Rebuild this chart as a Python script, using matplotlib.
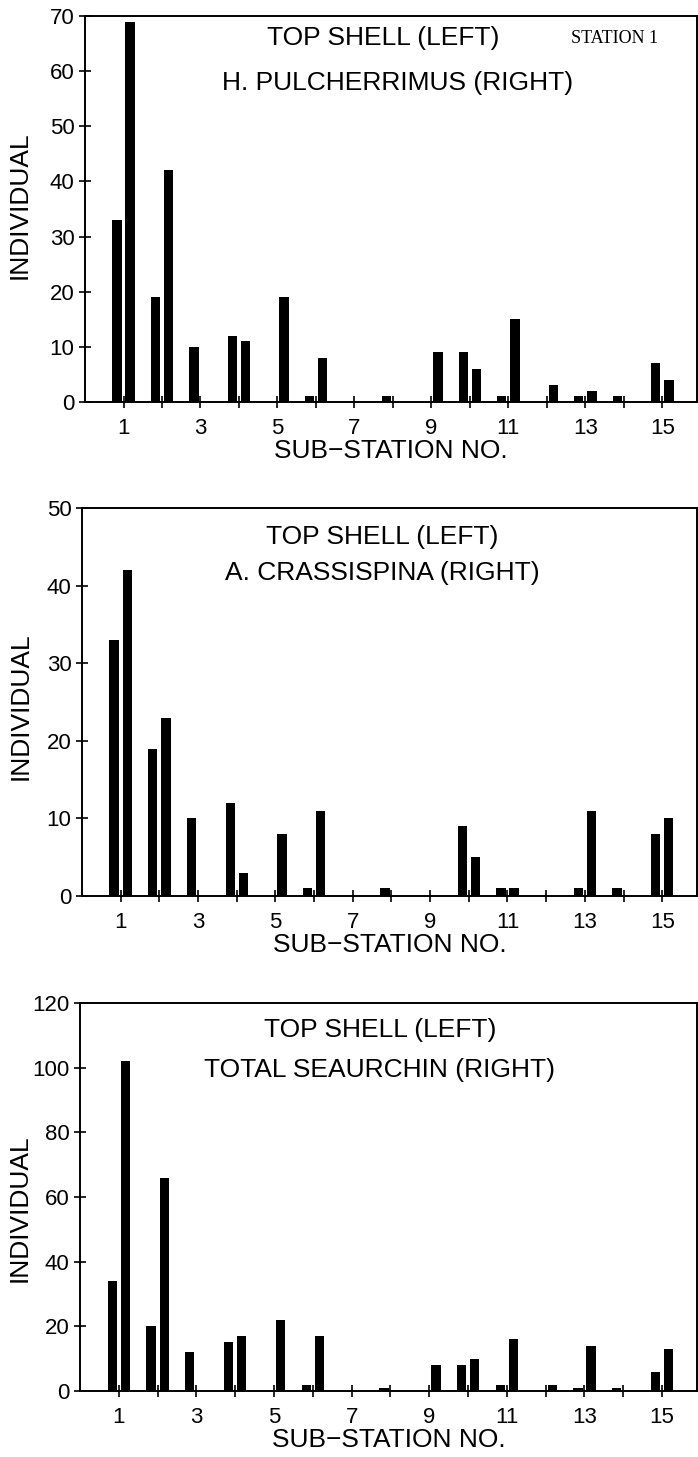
import matplotlib
matplotlib.use("Agg")
import matplotlib.pyplot as plt
import numpy as np

# sub-station numbers 1..15
stations = np.arange(1, 16)

# top shell (left bars), read for each panel
top_shell_1 = [33, 19, 10, 12, 0, 1, 0, 1, 0, 9, 1, 0, 1, 1, 7]
top_shell_2 = [33, 19, 10, 12, 0, 1, 0, 1, 0, 9, 1, 0, 1, 1, 8]
top_shell_3 = [34, 20, 12, 15, 0, 2, 0, 1, 0, 8, 2, 0, 1, 1, 6]

# second species (right bars)
pulcherrimus = [69, 42, 0, 11, 19, 8, 0, 0, 9, 6, 15, 3, 2, 0, 4]
crassispina = [42, 23, 0, 3, 8, 11, 0, 0, 0, 5, 1, 0, 11, 0, 10]
seaurchin = [102, 66, 0, 17, 22, 17, 0, 0, 8, 10, 16, 2, 14, 0, 13]

titles = [["TOP SHELL (LEFT)", "H. PULCHERRIMUS (RIGHT)"],
          ["TOP SHELL (LEFT)", "A. CRASSISPINA (RIGHT)"],
          ["TOP SHELL (LEFT)", "TOTAL SEAURCHIN (RIGHT)"]]
ymax = [70, 50, 120]
ystep = [10, 10, 20]

plt.rcParams['font.family'] = ['Liberation Sans', 'DejaVu Sans']

fig = plt.figure(figsize=(6.98, 14.57), dpi=100)

# axes boxes in figure coords [left, bottom, width, height]
boxes = [[0.1218, 0.7241, 0.8768, 0.2649],
         [0.1175, 0.3850, 0.8811, 0.2663],
         [0.1146, 0.0453, 0.8840, 0.2663]]
title_pos = [[(0.487, 0.943), (0.511, 0.826)],
             [(0.488, 0.925), (0.488, 0.832)],
             [(0.486, 0.930), (0.486, 0.827)]]
ylabel_pos = [(-0.087, 0.51), (-0.081, 0.49), (-0.078, 0.47)]

left_data = [top_shell_1, top_shell_2, top_shell_3]
right_data = [pulcherrimus, crassispina, seaurchin]

for i in range(0, 3):
    ax = fig.add_axes(boxes[i])
    ax.bar(stations - 0.17, left_data[i], width=0.24, color='black')
    ax.bar(stations + 0.17, right_data[i], width=0.24, color='black')

    ax.set_xlim(0, 15.9)
    ax.set_ylim(0, ymax[i])
    ax.set_yticks(np.arange(0, ymax[i] + 1, ystep[i]))
    ax.set_xticks(np.arange(1, 16, 2))
    ax.set_xticks(np.arange(2, 16, 2), minor=True)

    ax.tick_params(axis='y', direction='inout', length=9, width=1.2, labelsize=16, pad=3)
    ax.tick_params(axis='x', which='both', direction='inout', length=9, width=1.2, labelsize=16, pad=7)

    for s in ax.spines.values():
        s.set_linewidth(1.4)

    ax.set_ylabel("INDIVIDUAL", fontsize=19)
    ax.yaxis.set_label_coords(ylabel_pos[i][0], ylabel_pos[i][1])
    ax.set_xlabel("SUB\u2212STATION NO.", fontsize=19, labelpad=0)

    for j in range(0, 2):
        ax.text(title_pos[i][j][0], title_pos[i][j][1], titles[i][j], transform=ax.transAxes,
                ha='center', va='center', fontsize=19)

    if i == 0:
        ax.text(0.866, 0.943, "STATION 1", transform=ax.transAxes, ha='center', va='center',
                fontsize=13, family='Liberation Serif')

plt.savefig("out.png", dpi=100)
plt.close()
